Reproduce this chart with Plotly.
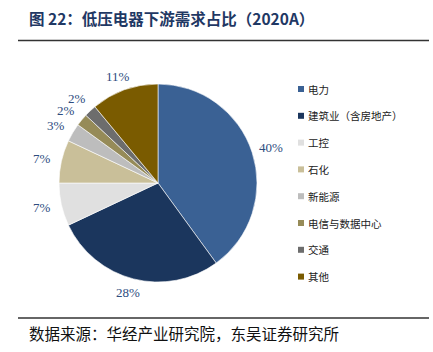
import math
import plotly.graph_objects as go

W, H = 433, 352

categories = ["电力", "建筑业（含房地产）", "工控", "石化", "新能源", "电信与数据中心", "交通", "其他"]
values = [40, 28, 7, 7, 3, 2, 2, 11]
colors = ["#3A6194", "#1B365D", "#E0E0E0", "#C9BF99", "#BDBDBD", "#968B58", "#6D6D6D", "#7A5B00"]

title_text = "图 22：低压电器下游需求占比（2020A）"
source_text = "数据来源：华经产业研究院，东吴证券研究所"


def px(x):
    return x / W


def py(y):
    return 1 - y / H


# pie geometry (pixels)
CX, CY, R = 158, 183, 99

fig = go.Figure()
fig.add_trace(go.Pie(
    labels=categories,
    values=values,
    sort=False,
    direction="clockwise",
    rotation=0,
    marker=dict(colors=colors, line=dict(color="white", width=0.6)),
    textinfo="none",
    showlegend=False,
    hoverinfo="label+value",
    domain=dict(x=[px(CX - R), px(CX + R)], y=[py(CY + R), py(CY - R)]),
))

shapes = []
annotations = []

# outside percentage labels, placed along each slice's mid-angle
total = sum(values)
cum = 0
lw, lh = 24, 13
positions = []
for v in values:
    mid = (cum + v / 2) / total * 2 * math.pi
    cum += v
    s, c = math.sin(mid), math.cos(mid)
    x = CX + s * (R + 8) + s * lw / 2
    y = CY - c * (R + 8) - c * lh / 2
    # simple overlap avoidance: push label upward if it collides with previous one
    if positions:
        x0, y0 = positions[-1]
        if abs(x - x0) < lw and abs(y - y0) < 12.5:
            y = y0 - 12.5
    positions.append((x, y))

for v, (x, y) in zip(values, positions):
    annotations.append(dict(
        x=px(x), y=py(y), xref="paper", yref="paper", xanchor="center", yanchor="middle",
        text=f"{v}%", showarrow=False,
        font=dict(family="Liberation Serif", size=13, color="#2E4C7E"),
    ))

# title
annotations.append(dict(
    x=px(27), y=py(18), xref="paper", yref="paper", xanchor="left", yanchor="middle",
    text="<b>" + title_text + "</b>", showarrow=False,
    font=dict(family="Noto Sans CJK SC", size=15.5, color="#1F3864"),
))
# lines
shapes.append(dict(type="line", xref="paper", yref="paper", x0=px(18), x1=px(429),
                   y0=py(40.5), y1=py(40.5), line=dict(color="#333333", width=1.5)))
shapes.append(dict(type="line", xref="paper", yref="paper", x0=px(18), x1=px(429),
                   y0=py(318), y1=py(318), line=dict(color="#333333", width=1.5)))
# source
annotations.append(dict(
    x=px(27), y=py(333), xref="paper", yref="paper", xanchor="left", yanchor="middle",
    text=source_text, showarrow=False,
    font=dict(family="Noto Sans CJK SC", size=15.5, color="#111111"),
))

# legend (manual)
leg_y0, leg_dy = 89, 26.8
for i, (cat, col) in enumerate(zip(categories, colors)):
    yc = leg_y0 + i * leg_dy
    shapes.append(dict(type="rect", xref="paper", yref="paper",
                       x0=px(298), x1=px(304), y0=py(yc + 3), y1=py(yc - 3),
                       fillcolor=col, line=dict(width=0)))
    annotations.append(dict(
        x=px(306), y=py(yc), xref="paper", yref="paper", xanchor="left", yanchor="middle",
        text=cat, showarrow=False,
        font=dict(family="Noto Sans CJK SC", size=10.5, color="#222222"),
    ))

fig.update_layout(
    width=W, height=H,
    margin=dict(l=0, r=0, t=0, b=0),
    paper_bgcolor="white",
    plot_bgcolor="white",
    shapes=shapes,
    annotations=annotations,
)

fig.write_html("out.html")
